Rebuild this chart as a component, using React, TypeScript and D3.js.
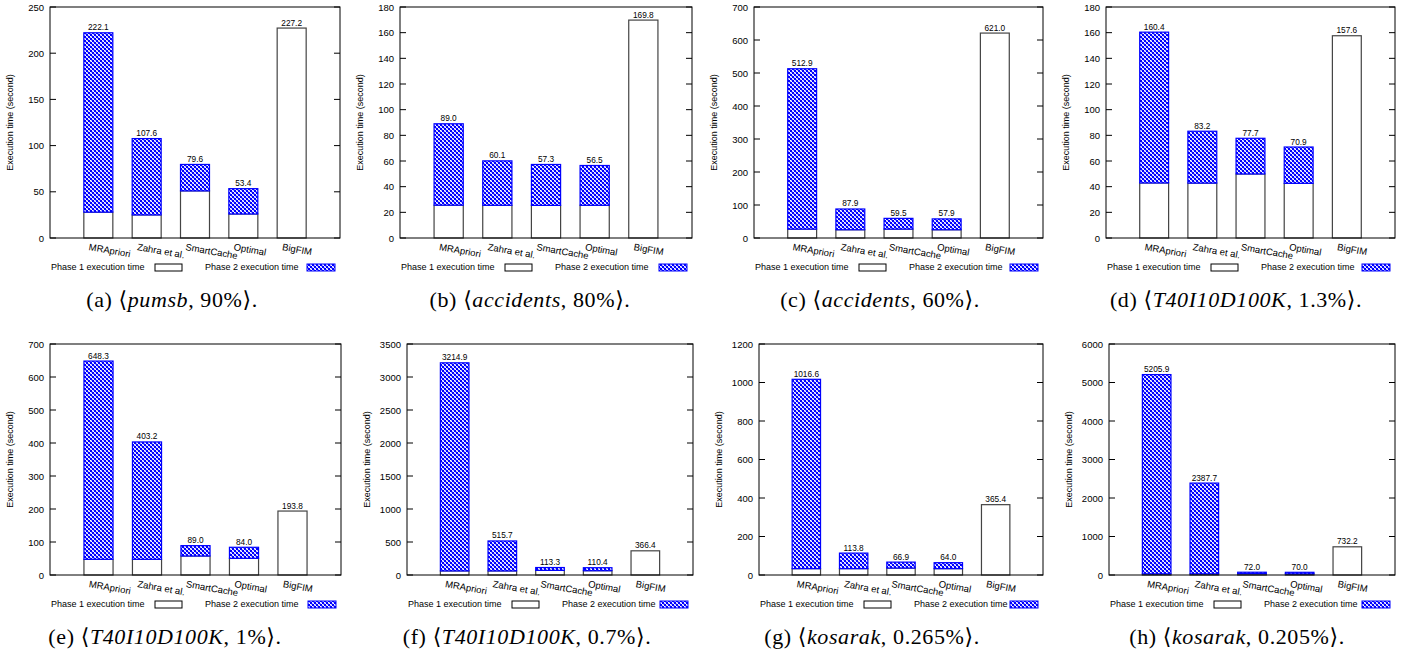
import React from "react";
import * as d3 from "d3";

// Methods compared in every panel
const methods = ["MRApriori", "Zahra et al.", "SmartCache", "Optimal", "BigFIM"];

// Total execution time (seconds) and phase-1 share, per dataset / support
const pumsb90Total = [222.1, 107.6, 79.6, 53.4, 227.2];
const pumsb90Phase1 = [28, 25, 51, 26, 227.2];

const accidents80Total = [89.0, 60.1, 57.3, 56.5, 169.8];
const accidents80Phase1 = [25.6, 25.5, 25.4, 25.5, 169.8];

const accidents60Total = [512.9, 87.9, 59.5, 57.9, 621.0];
const accidents60Phase1 = [27, 25, 27, 25, 621.0];

const t40d13Total = [160.4, 83.2, 77.7, 70.9, 157.6];
const t40d13Phase1 = [42.9, 42.8, 49.9, 42.6, 157.6];

const t40d1Total = [648.3, 403.2, 89.0, 84.0, 193.8];
const t40d1Phase1 = [47.5, 47.5, 57.6, 50.5, 193.8];

const t40d07Total = [3214.9, 515.7, 113.3, 110.4, 366.4];
const t40d07Phase1 = [62, 62, 70, 65, 366.4];

const kosarak265Total = [1016.6, 113.8, 66.9, 64.0, 365.4];
const kosarak265Phase1 = [33, 33, 36, 33, 365.4];

const kosarak205Total = [5205.9, 2387.7, 72.0, 70.0, 732.2];
const kosarak205Phase1 = [30, 30, 35, 30, 732.2];

// y-axis extents and tick steps
const yMax = [250, 180, 700, 180, 700, 3500, 1200, 6000];
const yStep = [50, 20, 100, 20, 100, 500, 200, 1000];

// caption parts: label, dataset, support
const captionLabels = ["(a)", "(b)", "(c)", "(d)", "(e)", "(f)", "(g)", "(h)"];
const captionSets = ["pumsb", "accidents", "accidents", "T40I10D100K", "T40I10D100K", "T40I10D100K", "kosarak", "kosarak"];
const captionSupports = ["90%", "80%", "60%", "1.3%", "1%", "0.7%", "0.265%", "0.205%"];

const totals = [pumsb90Total, accidents80Total, accidents60Total, t40d13Total, t40d1Total, t40d07Total, kosarak265Total, kosarak205Total];
const phase1s = [pumsb90Phase1, accidents80Phase1, accidents60Phase1, t40d13Phase1, t40d1Phase1, t40d07Phase1, kosarak265Phase1, kosarak205Phase1];

// plot frames for the 2x4 grid
const frames = [
  { l: 50, r: 340, t: 7, b: 238, cap: 172 },
  { l: 400, r: 692, t: 7, b: 238, cap: 530 },
  { l: 754, r: 1043, t: 7, b: 238, cap: 880 },
  { l: 1106, r: 1395, t: 7, b: 238, cap: 1236 },
  { l: 50, r: 341, t: 344, b: 575, cap: 165 },
  { l: 407, r: 693, t: 344, b: 575, cap: 527 },
  { l: 759, r: 1043, t: 344, b: 575, cap: 872 },
  { l: 1109, r: 1395, t: 344, b: 575, cap: 1237 },
];

const SANS = "'Liberation Sans', Arial, Helvetica, sans-serif";
const SERIF = "'Liberation Serif', 'Times New Roman', 'DejaVu Serif', serif";
const BLUE = "#0000ff";

function Panel({ idx }: { idx: number }) {
  const f = frames[idx];
  const total = totals[idx];
  const p1 = phase1s[idx];
  const x = d3.scaleLinear().domain([0, methods.length + 1]).range([f.l, f.r]);
  const y = d3.scaleLinear().domain([0, yMax[idx]]).range([f.b, f.t]);
  const bw = 0.6 * (x(1) - x(0));
  const ticks = d3.range(0, yMax[idx] + yStep[idx] / 2, yStep[idx]);
  const legendY = f.b + 29;
  const capY = f.b + 69;

  return (
    <g>
      {/* y ticks, mirrored on the right */}
      {ticks.map((v) => (
        <g key={v}>
          <line x1={f.l} x2={f.l + 6} y1={y(v)} y2={y(v)} stroke="#000" strokeWidth={1} />
          <line x1={f.r} x2={f.r - 6} y1={y(v)} y2={y(v)} stroke="#000" strokeWidth={1} />
          <text x={f.l - 6} y={y(v) + 3.5} textAnchor="end" fontSize={9.5} fontFamily={SANS} fill="#000">
            {v}
          </text>
        </g>
      ))}
      <text
        transform={`translate(${f.l - 37},${(f.t + f.b) / 2}) rotate(-90)`}
        textAnchor="middle"
        fontSize={9}
        fontFamily={SANS}
        fill="#000"
      >
        Execution time (second)
      </text>

      {/* stacked bars */}
      {methods.map((m, i) => {
        const cx = x(i + 1);
        const phase2 = total[i] - p1[i];
        return (
          <g key={m}>
            <rect x={cx - bw / 2} y={y(p1[i])} width={bw} height={f.b - y(p1[i])} fill="#fff" stroke="#444" strokeWidth={1.2} />
            <rect
              x={cx - bw / 2}
              y={y(p1[i] + phase2)}
              width={bw}
              height={y(p1[i]) - y(p1[i] + phase2)}
              fill="url(#checker)"
              stroke={BLUE}
              strokeWidth={1.2}
            />
            <text x={cx} y={y(total[i]) - 2.5} textAnchor="middle" fontSize={8.3} fontFamily={SANS} fill="#000">
              {total[i].toFixed(1)}
            </text>
            <text
              transform={`translate(${cx - 10},${f.b + 12}) rotate(10)`}
              fontSize={9.5}
              fontFamily={SANS}
              fill="#000"
            >
              {m}
            </text>
          </g>
        );
      })}

      {/* frame */}
      <rect x={f.l} y={f.t} width={f.r - f.l} height={f.b - f.t} fill="none" stroke="#000" strokeWidth={1} />

      {/* legend */}
      <text x={f.l + 1} y={legendY + 3} fontSize={9} fontFamily={SANS} fill="#000">
        Phase 1 execution time
      </text>
      <rect x={f.l + 105} y={legendY - 3} width={27} height={7} fill="#fff" stroke="#000" strokeWidth={1} />
      <text x={f.l + 155} y={legendY + 3} fontSize={9} fontFamily={SANS} fill="#000">
        Phase 2 execution time
      </text>
      <rect x={f.r - 33} y={legendY - 3} width={28} height={7} fill="url(#checker)" stroke={BLUE} strokeWidth={1} />

      {/* caption */}
      <text x={f.cap} y={capY} textAnchor="middle" fontSize={22} letterSpacing={0.6} fontFamily={SERIF} fill="#000">
        {captionLabels[idx]} {"\u27E8"}
        <tspan fontStyle="italic">{captionSets[idx]}</tspan>
        {", " + captionSupports[idx] + "\u27E9."}
      </text>
    </g>
  );
}

export default function App() {
  return (
    <svg
      width={1411}
      height={651}
      style={{ position: "absolute", left: 0, top: 0, background: "#fff" }}
    >
      <defs>
        <pattern id="checker" patternUnits="userSpaceOnUse" width={4} height={4}>
          <rect width={4} height={4} fill="#ffffff" />
          <rect width={2} height={2} fill={BLUE} />
          <rect x={2} y={2} width={2} height={2} fill={BLUE} />
          <circle cx={2} cy={2} r={0.7} fill={BLUE} />
          <circle cx={0} cy={0} r={0.7} fill={BLUE} />
          <circle cx={4} cy={0} r={0.7} fill={BLUE} />
          <circle cx={0} cy={4} r={0.7} fill={BLUE} />
          <circle cx={4} cy={4} r={0.7} fill={BLUE} />
        </pattern>
      </defs>
      <rect width={1411} height={651} fill="#fff" />
      {frames.map((_, i) => (
        <Panel key={i} idx={i} />
      ))}
    </svg>
  );
}
